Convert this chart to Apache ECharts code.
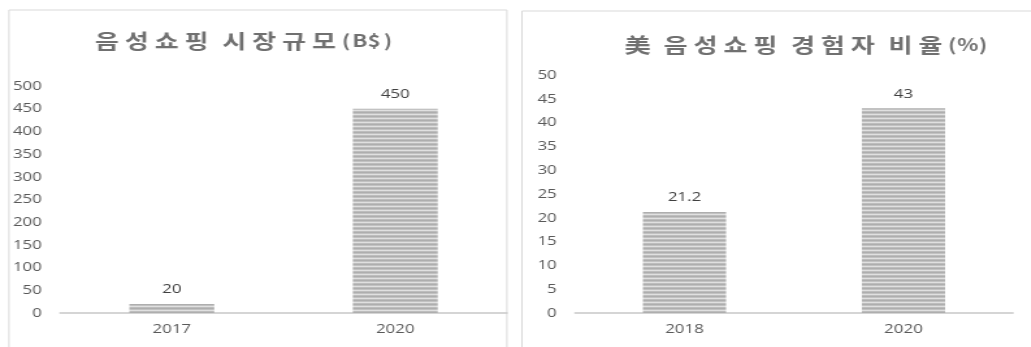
<!DOCTYPE html>
<html>
<head>
<meta charset="utf-8">
<script src="https://cdn.jsdelivr.net/npm/echarts@6/dist/echarts.min.js"></script>
<style>
  html, body { margin: 0; padding: 0; background: #fff; overflow: hidden; }
  #wrap { width: 1031px; height: 347px; overflow: hidden; }
  #c { width: 793px; height: 347px; transform: scaleX(1.3); transform-origin: 0 0; }
</style>
</head>
<body>
<div id="wrap"><div id="c"></div></div>
<script>
// ---- data ----
const leftTitle = '음성쇼핑 시장규모(B$)';
const leftCategories = ['2017', '2020'];
const leftValues = [20, 450];

const rightTitle = '美 음성쇼핑 경험자 비율(%)';
const rightCategories = ['2018', '2020'];
const rightValues = [21.2, 43];

// ---- helpers ----
function spaced(str) {
  return str.split('').map(function (ch) {
    if (ch === ' ') return '{s| }';
    if (/[\u3131-\uD7A3\u4E00-\u9FFF]/.test(ch)) return '{k|' + ch + '}';
    if (ch === '%') return '{p|' + ch + '}';
    return '{a|' + ch + '}';
  }).join('');
}
const titleColor = '#707070';
const titleFont = { fontFamily: '"Noto Sans CJK KR", sans-serif', fontSize: 20, fontWeight: 'bold', fill: titleColor, align: 'center' };
const asciiFont = { fontFamily: '"Noto Sans CJK KR", sans-serif', fontSize: 17, fontWeight: 'bold', fill: titleColor, align: 'center' };
const titleRich = {
  k: Object.assign({ width: 23 }, titleFont),
  a: Object.assign({ width: 10.8 }, asciiFont),
  p: Object.assign({ width: 13 }, asciiFont),
  s: Object.assign({ width: 6 }, titleFont)
};

const pat = document.createElement('canvas');
pat.width = 4; pat.height = 4;
(function () {
  const ctx = pat.getContext('2d');
  const rows = ['#aeaeae', '#c2c2c2', '#e0e0e0', '#bdbdbd'];
  rows.forEach(function (c, i) { ctx.fillStyle = c; ctx.fillRect(0, i, 4, 1); });
})();
const barColor = { image: pat, repeat: 'repeat' };

const font = '"Open Sans", sans-serif';
function xAxisOpt(idx, cats) {
  return {
    type: 'category', gridIndex: idx, data: cats,
    axisLine: { lineStyle: { color: '#c8c8c8', width: 1.5 } },
    axisTick: { show: false },
    axisLabel: { color: '#595959', fontSize: 13, fontFamily: font, margin: 10 }
  };
}
function yAxisOpt(idx, max, interval) {
  return {
    type: 'value', gridIndex: idx, min: 0, max: max, interval: interval,
    axisLine: { show: false }, axisTick: { show: false }, splitLine: { show: false },
    axisLabel: { color: '#595959', fontSize: 13, fontFamily: font, margin: 14 }
  };
}
function barSeries(idx, vals) {
  return {
    type: 'bar', xAxisIndex: idx, yAxisIndex: idx, data: vals, barWidth: '38%',
    itemStyle: { color: barColor },
    label: { show: true, position: 'top', distance: 8, color: '#404040', fontSize: 13, fontFamily: font },
    emphasis: { disabled: true }
  };
}

const chart = echarts.init(document.getElementById('c'), null, { renderer: 'canvas' });
chart.setOption({
  animation: false,
  grid: [
    { left: 46.2, right: 403, top: 86, bottom: 34 },
    { left: 442.3, right: 13.8, top: 75, bottom: 34 }
  ],
  xAxis: [xAxisOpt(0, leftCategories), xAxisOpt(1, rightCategories)],
  yAxis: [yAxisOpt(0, 500, 50), yAxisOpt(1, 50, 5)],
  series: [barSeries(0, leftValues), barSeries(1, rightValues)],
  graphic: [
    { type: 'rect', silent: true, z: -1, shape: { x: 6.9, y: 10, width: 383, height: 400 }, style: { fill: 'none', stroke: '#d9d9d9', lineWidth: 1 } },
    { type: 'rect', silent: true, z: -1, shape: { x: 401.5, y: 11, width: 500, height: 400 }, style: { fill: 'none', stroke: '#d9d9d9', lineWidth: 1 } },
    { type: 'text', silent: true, x: 187.3, y: 41, style: { text: spaced(leftTitle), align: 'center', verticalAlign: 'middle', rich: titleRich, fontSize: 20, fontFamily: titleFont.fontFamily, fontWeight: 'bold', fill: titleColor } },
    { type: 'text', silent: true, x: 620.4, y: 45, style: { text: spaced(rightTitle), align: 'center', verticalAlign: 'middle', rich: titleRich, fontSize: 20, fontFamily: titleFont.fontFamily, fontWeight: 'bold', fill: titleColor } }
  ]
});
</script>
</body>
</html>
